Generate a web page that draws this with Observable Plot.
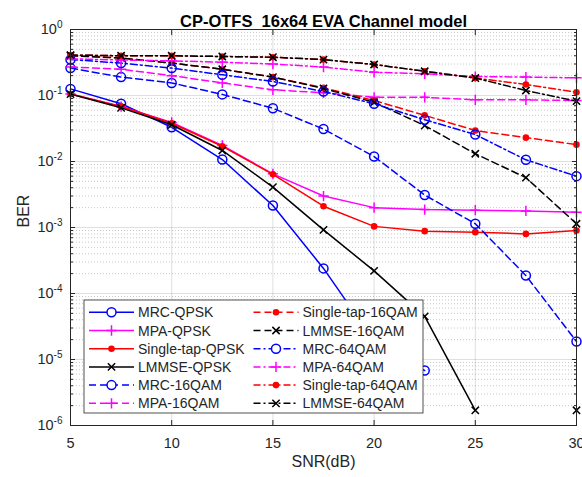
<!DOCTYPE html>
<html><head><meta charset="utf-8">
<script src="https://cdn.jsdelivr.net/npm/d3@7"></script>
<script src="https://cdn.jsdelivr.net/npm/@observablehq/plot@0.6"></script>
<style>
body{margin:0;background:#fff;}
#chart{position:relative;width:582px;height:477px;}
</style></head><body><div id="chart"></div>
<script>
const snr = [5, 7.5, 10, 12.5, 15, 17.5, 20, 22.5, 25, 27.5, 30];
const mrcQPSK    = [0.126, 0.075, 0.033, 0.0107, 0.00215, 2.4e-4, 1.9e-5, 6.8e-6, null, null, null];
const mpaQPSK    = [0.105, 0.068, 0.039, 0.0175, 0.0065, 0.0030, 0.0020, 0.00187, 0.00183, 0.00178, 0.0017];
const singleQPSK = [0.105, 0.068, 0.038, 0.017, 0.0064, 0.0021, 0.00104, 8.8e-4, 8.5e-4, 8.0e-4, 9.0e-4];
const lmmseQPSK  = [0.105, 0.065, 0.036, 0.0147, 0.0041, 9.2e-4, 2.2e-4, 4.5e-5, 1.7e-6, null, 1.7e-6];
const mrc16QAM    = [0.26, 0.19, 0.155, 0.104, 0.064, 0.031, 0.0119, 0.0031, 0.00114, 1.87e-4, 1.87e-5];
const mpa16QAM    = [0.27, 0.25, 0.20, 0.155, 0.122, 0.11, 0.094, 0.094, 0.086, 0.086, 0.084];
const single16QAM = [0.40, 0.37, 0.31, 0.25, 0.19, 0.131, 0.084, 0.05, 0.0295, 0.023, 0.018];
const lmmse16QAM  = [0.40, 0.37, 0.31, 0.25, 0.19, 0.128, 0.079, 0.035, 0.0131, 0.0057, 0.00114];
const mrc64QAM    = [0.35, 0.31, 0.26, 0.206, 0.163, 0.115, 0.075, 0.043, 0.0256, 0.0106, 0.006];
const mpa64QAM    = [0.36, 0.345, 0.335, 0.32, 0.30, 0.27, 0.225, 0.213, 0.194, 0.19, 0.185];
const single64QAM = [0.41, 0.40, 0.40, 0.39, 0.38, 0.35, 0.295, 0.233, 0.184, 0.147, 0.112];
const lmmse64QAM  = [0.41, 0.40, 0.40, 0.39, 0.38, 0.35, 0.295, 0.233, 0.184, 0.119, 0.082];

const seriesNames = ["MRC-QPSK","MPA-QPSK","Single-tap-QPSK","LMMSE-QPSK","MRC-16QAM","MPA-16QAM",
  "Single-tap-16QAM","LMMSE-16QAM","MRC-64QAM","MPA-64QAM","Single-tap-64QAM","LMMSE-64QAM"];
const seriesValues = [mrcQPSK, mpaQPSK, singleQPSK, lmmseQPSK, mrc16QAM, mpa16QAM,
  single16QAM, lmmse16QAM, mrc64QAM, mpa64QAM, single64QAM, lmmse64QAM];
const seriesColors = ["#0000ff","#ff00ff","#ff0000","#000000","#0000ff","#ff00ff",
  "#ff0000","#000000","#0000ff","#ff00ff","#ff0000","#000000"];
const DASHED = "7,4", DASHDOT = "7,3,2,3";
const seriesDash = [null,null,null,null,DASHED,DASHED,DASHED,DASHED,DASHDOT,DASHDOT,DASHDOT,DASHDOT];
const seriesSymbol = ["circle","plus","dot","times","circle","plus","dot","times","circle","plus","dot","times"];

const xTicks = [5, 10, 15, 20, 25, 30];
const yExponents = [-6, -5, -4, -3, -2, -1, 0];
const yDecades = yExponents.map(e => Math.pow(10, e));
const yMinor = yExponents.slice(0, -1).flatMap(e => [2,3,4,5,6,7,8,9].map(m => m * Math.pow(10, e)));
const titleText = "CP-OTFS  16x64 EVA Channel model";
const xLabel = "SNR(dB)";
const yLabel = "BER";

const FONT = '"Liberation Sans", Arial, Helvetica, sans-serif';
const LW = 1.5;

function markerOpts(sym, color) {
  if (sym === "circle") return {symbol: "circle", r: 4.5, stroke: color, fill: "none", strokeWidth: LW};
  if (sym === "plus") return {symbol: "plus", r: 3.4, stroke: color, fill: "none", strokeWidth: LW};
  if (sym === "times") return {symbol: "times", r: 3.4, stroke: color, fill: "none", strokeWidth: LW};
  return {symbol: "circle", r: 3.3, fill: color, stroke: "none"};
}

const seriesMarks = [];
seriesNames.forEach((name, s) => {
  const rows = snr.map((x, i) => ({snr: x, ber: seriesValues[s][i]}));
  seriesMarks.push(Plot.line(rows, {x: "snr", y: "ber", stroke: seriesColors[s], strokeWidth: LW,
    strokeDasharray: seriesDash[s] || undefined}));
  seriesMarks.push(Plot.dot(rows.filter(d => d.ber != null), {x: "snr", y: "ber", ...markerOpts(seriesSymbol[s], seriesColors[s])}));
});

const tickOnly = {fill: "none", label: null, stroke: "#262626"};

const chart = Plot.plot({
  width: 582, height: 477,
  marginLeft: 70, marginRight: 6, marginTop: 29, marginBottom: 52,
  style: {fontFamily: FONT, color: "#262626", background: "#fff", fontSize: "14px"},
  x: {domain: [5, 30]},
  y: {type: "log", domain: [1e-6, 1]},
  marks: [
    Plot.gridX(xTicks, {stroke: "#262626", strokeOpacity: 0.15}),
    Plot.gridY(yMinor, {stroke: "#262626", strokeOpacity: 0.25, strokeDasharray: "1,2"}),
    Plot.gridY(yDecades, {stroke: "#262626", strokeOpacity: 0.15}),
    ...seriesMarks,
    Plot.frame({stroke: "#262626", strokeWidth: 1}),
    Plot.axisX(xTicks, {anchor: "bottom", tickSize: 0, tickPadding: 12, fontSize: 14.5, label: null, tickFormat: d => String(d)}),
    Plot.axisX(xTicks, {anchor: "bottom", tickSize: -5, ...tickOnly}),
    Plot.axisX(xTicks, {anchor: "top", tickSize: -5, ...tickOnly}),
    Plot.axisY(yDecades, {anchor: "left", tickSize: 0, tickPadding: 8, fontSize: 14.5, label: null,
      tickFormat: d => "10^" + Math.round(Math.log10(d))}),
    Plot.axisY(yDecades, {anchor: "left", tickSize: -5, ...tickOnly}),
    Plot.axisY(yDecades, {anchor: "right", tickSize: -5, ...tickOnly}),
    Plot.axisY(yMinor, {anchor: "left", tickSize: -3, ...tickOnly}),
    Plot.axisY(yMinor, {anchor: "right", tickSize: -3, ...tickOnly}),
    Plot.text([titleText], {frameAnchor: "top", dy: -14, text: d => d, fontWeight: "bold", fontSize: 16.5, fill: "#000"}),
    Plot.text([xLabel], {frameAnchor: "bottom", dy: 41, text: d => d, fontSize: 16}),
    Plot.text([yLabel], {frameAnchor: "left", dx: -47, rotate: -90, text: d => d, fontSize: 16})
  ]
});
document.getElementById("chart").appendChild(chart);

// superscript exponents on y tick labels
const svg = d3.select(chart.tagName.toLowerCase() === "svg" ? chart : chart.querySelector("svg"));
svg.selectAll('g[aria-label="y-axis tick label"] text').each(function() {
  const t = d3.select(this);
  const s = t.text();
  const m = s.match(/^10\^(-?\d+)$/);
  if (!m) return;
  t.text("10");
  t.append("tspan").attr("dy", "-0.6em").attr("font-size", "10px").text(m[1]);
});

// legend (MATLAB style, two columns)
const lg = svg.append("g").attr("font-family", FONT).attr("font-size", 14).attr("fill", "#000").attr("text-anchor", "start");
const box = {x: 84, y: 300, w: 339, h: 113};
lg.append("rect").attr("x", box.x).attr("y", box.y).attr("width", box.w).attr("height", box.h)
  .attr("fill", "#fff").attr("stroke", "#262626").attr("stroke-width", 0.8);
seriesNames.forEach((name, s) => {
  const col = s < 6 ? 0 : 1, row = s % 6;
  const x0 = col === 0 ? 89 : 253.5;
  const y = 312.3 + 18.2 * row;
  lg.append("line").attr("x1", x0).attr("x2", x0 + 45).attr("y1", y).attr("y2", y)
    .attr("stroke", seriesColors[s]).attr("stroke-width", LW)
    .attr("stroke-dasharray", seriesDash[s] || null);
  const mx = x0 + 22.5, sym = seriesSymbol[s], c = seriesColors[s];
  if (sym === "circle") {
    lg.append("circle").attr("cx", mx).attr("cy", y).attr("r", 4.5).attr("fill", "#fff").attr("stroke", c).attr("stroke-width", LW);
  } else if (sym === "dot") {
    lg.append("circle").attr("cx", mx).attr("cy", y).attr("r", 3.3).attr("fill", c);
  } else {
    const type = sym === "plus" ? d3.symbolPlus : d3.symbolTimes;
    lg.append("path").attr("transform", `translate(${mx},${y})`)
      .attr("d", d3.symbol(type, Math.PI * 3.4 * 3.4)()).attr("fill", "none").attr("stroke", c).attr("stroke-width", LW);
  }
  lg.append("text").attr("x", x0 + 49).attr("y", y).attr("dy", "0.36em").attr("fill", "#262626").text(name);
});
</script></body></html>
